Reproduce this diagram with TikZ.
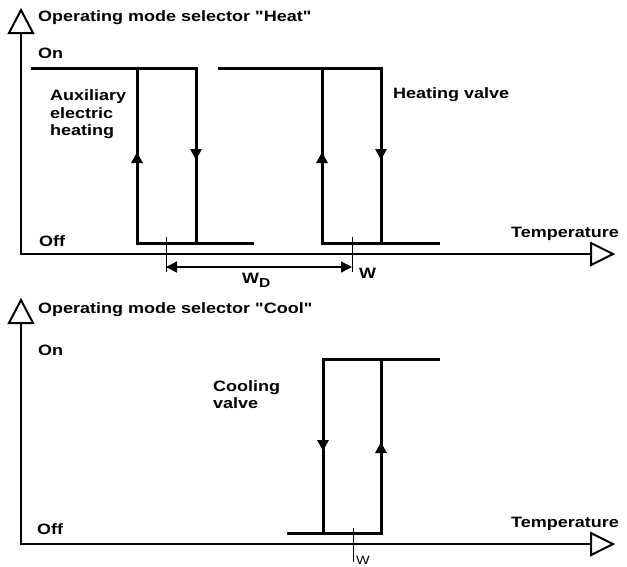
\documentclass[tikz,border=0pt]{standalone}
\usepackage{fontspec}
\setmainfont{Liberation Sans}[FakeStretch=1.2, Ligatures=TeXOff]
\usetikzlibrary{arrows.meta}
\begin{document}
\begin{tikzpicture}[x=1pt,y=-1pt,
  lbl/.style={font=\bfseries\fontsize{15}{17}\selectfont, anchor=base west, inner sep=0pt, align=left},
  axis/.style={line width=2pt},
  curve/.style={line width=3pt, line join=miter},
  tipline/.style={-{Triangle[length=11pt,width=11pt]}, line width=3pt},
  head/.style={line width=2pt, fill=white, line join=miter},
  tickline/.style={line width=1pt},
  dimline/.style={line width=1.3pt, {Triangle[length=11pt,width=11pt]}-{Triangle[length=11pt,width=11pt]}},
]
\useasboundingbox (0,0) rectangle (627,566);

% ---------- Heat ----------
\coordinate (hYtop) at (21,33);
\coordinate (hO) at (21,254);
\coordinate (hXend) at (591,254);
\draw[axis] (hYtop) -- (hO) -- (hXend);
\draw[head] (21,10) -- (9,33) -- (33,33) -- cycle;
\draw[head] (591,243) -- (613,254) -- (591,265) -- cycle;

\node[lbl] (htitle) at (38,21) {Operating mode selector "Heat"};
\node[lbl] (hon) at (38,58) {On};
\node[lbl] (hoff) at (39,246) {Off};
\node[lbl, anchor=base east] (htemp) at (619,237) {Temperature};
\node[lbl] (aux) at (50,100) {Auxiliary};
\node[lbl] (aux2) at (50,118) {electric};
\node[lbl] (aux3) at (50,135) {heating};
\node[lbl] (hv) at (393,98) {Heating valve};

% auxiliary heating hysteresis
\draw[curve] (31,68) -- (196,68) -- (196,243);
\draw[curve] (137,66.5) -- (137,243) -- (254,243);
\draw[tipline] (137,200) -- (137,152);
\draw[tipline] (196,110) -- (196,160);
% heating valve hysteresis
\draw[curve] (218,68) -- (381,68) -- (381,243);
\draw[curve] (322,66.5) -- (322,243) -- (440,243);
\draw[tipline] (322,200) -- (322,152);
\draw[tipline] (381,110) -- (381,160);

% dimension W_D
\coordinate (t1a) at (166,237); \coordinate (t1b) at (166,272);
\coordinate (t2a) at (352,237); \coordinate (t2b) at (352,272);
\draw[tickline] (t1a) -- (t1b);
\draw[tickline] (t2a) -- (t2b);
\coordinate (d1) at (166,267); \coordinate (d2) at (352,267);
\draw[dimline] (d1) -- (d2);
\node[lbl] (wd) at (242,283) {W\raisebox{-4pt}{\fontsize{13}{13}\selectfont D}};
\node[lbl] (w1) at (359,278) {W};

% ---------- Cool ----------
\coordinate (cYtop) at (21,323);
\coordinate (cO) at (21,544);
\coordinate (cXend) at (591,544);
\draw[axis] (cYtop) -- (cO) -- (cXend);
\draw[head] (21,300) -- (9,323) -- (33,323) -- cycle;
\draw[head] (591,533) -- (613,544) -- (591,555) -- cycle;

\node[lbl] (ctitle) at (38,313) {Operating mode selector "Cool"};
\node[lbl] (con) at (38,355) {On};
\node[lbl] (coff) at (37,534) {Off};
\node[lbl, anchor=base east] (ctemp) at (619,527) {Temperature};
\node[lbl] (cv) at (213,391) {Cooling};
\node[lbl] (cv2) at (213,408) {valve};

\draw[curve] (287,533) -- (381,533) -- (381,359);
\draw[curve] (323,534.5) -- (323,359) -- (440,359);
\draw[tipline] (323,400) -- (323,451);
\draw[tipline] (381,500) -- (381,442);

\coordinate (t3a) at (353,528); \coordinate (t3b) at (353,562);
\draw[tickline] (t3a) -- (t3b);
\node[anchor=base west, inner sep=0pt, font=\fontsize{12}{12}\selectfont] (w2) at (356,564) {W};
\end{tikzpicture}
\end{document}
